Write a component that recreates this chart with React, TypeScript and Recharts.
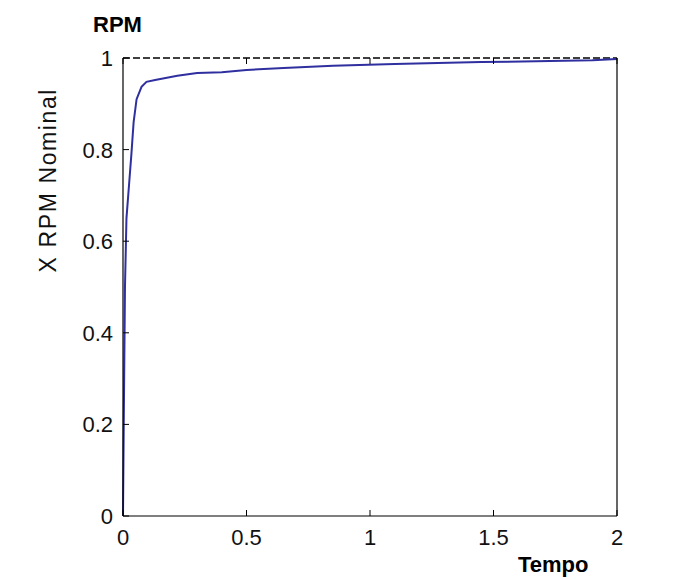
import React from "react";
import { LineChart, Line, XAxis, YAxis, ReferenceLine } from "recharts";

const times = [0, 0.003, 0.008, 0.014, 0.024, 0.034, 0.043, 0.055, 0.075, 0.095, 0.13, 0.22, 0.3, 0.4, 0.5, 0.65, 0.85, 1.1, 1.45, 1.9, 2.0];
const rpm = [0, 0.2, 0.5, 0.65, 0.72, 0.79, 0.86, 0.91, 0.937, 0.948, 0.952, 0.961, 0.967, 0.969, 0.974, 0.978, 0.983, 0.987, 0.991, 0.995, 0.998];
const xTicks = [0, 0.5, 1, 1.5, 2];
const yTicks = [0, 0.2, 0.4, 0.6, 0.8, 1];
const setpoint = 1;
const xTitle = "Tempo";
const yTitle = "X RPM Nominal";
const topTitle = "RPM";

const data = times.map((t, i) => ({ t, v: rpm[i] }));

const FONT = "'Liberation Sans', Arial, sans-serif";

const BottomTick = (props: any) => {
  const { x, y, payload } = props;
  return (
    <g>
      <line x1={x} x2={x} y1={y} y2={y - 6} stroke="#000" strokeWidth={1} />
      <text x={x} y={y + 29} textAnchor="middle" fontSize={22} fontFamily={FONT} fill="#111">
        {String(payload.value)}
      </text>
    </g>
  );
};

const TopTick = (props: any) => {
  const { x, y } = props;
  return <line x1={x} x2={x} y1={y} y2={y + 6} stroke="#000" strokeWidth={1} />;
};

const LeftTick = (props: any) => {
  const { x, y, payload } = props;
  return (
    <g>
      <line x1={x} x2={x + 6} y1={y} y2={y} stroke="#000" strokeWidth={1} />
      <text x={x - 10} y={y + 8} textAnchor="end" fontSize={22} fontFamily={FONT} fill="#111">
        {String(payload.value)}
      </text>
    </g>
  );
};

const RightTick = (props: any) => {
  const { x, y } = props;
  return <line x1={x} x2={x - 6} y1={y} y2={y} stroke="#000" strokeWidth={1} />;
};

export default function App() {
  return (
    <div style={{ position: "absolute", left: 0, top: 0, width: 674, height: 580, background: "#fff" }}>
      <LineChart
        width={674}
        height={580}
        data={data}
        margin={{ top: 48, right: 37, bottom: 34, left: 63 }}
      >
        <XAxis
          xAxisId="bottom"
          dataKey="t"
          type="number"
          domain={[0, 2]}
          ticks={xTicks}
          orientation="bottom"
          height={30}
          tickSize={0}
          tickMargin={0}
          tickLine={false}
          axisLine={{ stroke: "#000", strokeWidth: 1.2 }}
          tick={<BottomTick />}
          interval={0}
        />
        <XAxis
          xAxisId="top"
          dataKey="t"
          type="number"
          domain={[0, 2]}
          ticks={xTicks}
          orientation="top"
          height={10}
          tickSize={0}
          tickMargin={0}
          tickLine={false}
          axisLine={false}
          tick={<TopTick />}
          interval={0}
        />
        <YAxis
          yAxisId="left"
          type="number"
          domain={[0, 1]}
          ticks={yTicks}
          width={60}
          tickSize={0}
          tickMargin={0}
          tickLine={false}
          axisLine={{ stroke: "#000", strokeWidth: 1.2 }}
          tick={<LeftTick />}
          interval={0}
        />
        <YAxis
          yAxisId="right"
          orientation="right"
          type="number"
          domain={[0, 1]}
          ticks={yTicks}
          width={20}
          tickSize={0}
          tickMargin={0}
          tickLine={false}
          axisLine={{ stroke: "#000", strokeWidth: 1.2 }}
          tick={<RightTick />}
          interval={0}
        />
        <ReferenceLine
          xAxisId="bottom"
          yAxisId="left"
          y={setpoint}
          stroke="#000"
          strokeWidth={1.5}
          strokeDasharray="7 3"
        />
        <Line
          xAxisId="bottom"
          yAxisId="left"
          dataKey="v"
          type="linear"
          stroke="#2f2f9f"
          strokeWidth={2}
          dot={false}
          isAnimationActive={false}
        />
      </LineChart>
      <svg width={674} height={580} style={{ position: "absolute", left: 0, top: 0, pointerEvents: "none" }}>
        <text x={93} y={32} fontSize={22} fontWeight="bold" fontFamily={FONT} fill="#000">
          {topTitle}
        </text>
        <text x={518} y={572} fontSize={22} fontWeight="bold" fontFamily={FONT} fill="#000">
          {xTitle}
        </text>
        <text
          x={0}
          y={0}
          transform="translate(56,181) rotate(-90)"
          textAnchor="middle"
          fontSize={23}
          fontFamily={FONT}
          fill="#111"
          textLength={183}
          lengthAdjust="spacing"
        >
          {yTitle}
        </text>
      </svg>
    </div>
  );
}
